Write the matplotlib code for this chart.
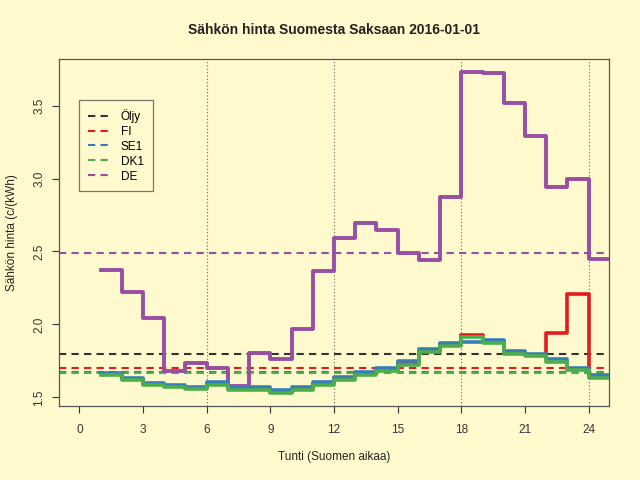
import numpy as np
import matplotlib
matplotlib.use("Agg")
import matplotlib.pyplot as plt

# hourly prices c/kWh, hour 1..24 (last value repeated for the step end)
hours = np.arange(1, 26)
fi = [1.658, 1.624, 1.594, 1.578, 1.564, 1.594, 1.560, 1.560, 1.539, 1.560,
      1.598, 1.631, 1.667, 1.690, 1.738, 1.818, 1.864, 1.926, 1.885, 1.809,
      1.790, 1.940, 2.210, 1.644, 1.644]
se1 = [1.665, 1.630, 1.600, 1.587, 1.573, 1.605, 1.567, 1.567, 1.548, 1.567,
       1.605, 1.641, 1.674, 1.700, 1.747, 1.828, 1.873, 1.876, 1.892, 1.818,
       1.800, 1.759, 1.704, 1.653, 1.653]
dk1 = [1.650, 1.615, 1.582, 1.569, 1.560, 1.585, 1.550, 1.550, 1.530, 1.550,
       1.587, 1.619, 1.656, 1.677, 1.724, 1.807, 1.853, 1.910, 1.873, 1.800,
       1.780, 1.745, 1.686, 1.630, 1.630]
de = [2.375, 2.225, 2.045, 1.680, 1.735, 1.700, 1.580, 1.805, 1.765, 1.965,
      2.365, 2.590, 2.695, 2.650, 2.490, 2.440, 2.875, 3.730, 3.725, 3.520,
      3.290, 2.940, 2.995, 2.445, 2.445]

# reference levels (oil price and daily averages)
oil_level = 1.80
fi_avg = 1.704
se1_avg = 1.672
dk1_avg = 1.668
de_avg = 2.49

names = ["Öljy", "FI", "SE1", "DK1", "DE"]
colors = ["#333333", "#E41A1C", "#377EB8", "#4DAF4A", "#984EA3"]
xticks = list(range(0, 25, 3))
yticks = [1.5, 2.0, 2.5, 3.0, 3.5]

bg = "#FFFACD"
plt.rcParams["font.family"] = ["Liberation Sans", "DejaVu Sans"]
fig = plt.figure(figsize=(6.4, 4.8), dpi=100, facecolor=bg)
ax = fig.add_axes([59 / 640, 1 - 406 / 480, 550 / 640, 347 / 480], facecolor=bg)

for v in [6, 12, 18, 24]:
    ax.axvline(v, color="#666666", lw=0.8, ls=(0, (1, 2)), zorder=1)

ax.step(hours, de, where="post", color=colors[4], lw=2.8, zorder=3)
ax.step(hours, fi, where="post", color=colors[1], lw=2.6, zorder=3)
ax.step(hours, se1, where="post", color=colors[2], lw=2.6, zorder=3)
ax.step(hours, dk1, where="post", color=colors[3], lw=2.6, zorder=3)

dash = (0, (3.5, 2.5))
levels = [oil_level, fi_avg, se1_avg, dk1_avg, de_avg]
handles = []
for lev, c, n in zip(levels, colors, names):
    h = ax.axhline(lev, color=c, lw=1.5, ls=dash, zorder=2, label=n)
    handles.append(h)

ax.set_xlim(-0.96, 24.96)
ax.set_ylim(1.44, 3.82)
ax.set_xticks(xticks)
ax.set_yticks(yticks)
ax.set_yticklabels([str(t) for t in yticks], rotation=90, va="center")
ax.tick_params(direction="out", length=5, width=0.8, colors="#333333",
               labelsize=8.5)
ax.tick_params(axis="x", pad=8)
ax.tick_params(axis="y", pad=5)
for s in ax.spines.values():
    s.set_color("#555555")
    s.set_linewidth(0.9)

ax.set_xlabel("Tunti (Suomen aikaa)", fontsize=8.5, color="#222222", labelpad=11)
ax.set_ylabel("Sähkön hinta (c/(kWh)", fontsize=8.5, color="#222222", labelpad=11)
fig.text(334 / 640, 1 - 30 / 480, "Sähkön hinta Suomesta Saksaan 2016-01-01",
         ha="center", va="center", fontsize=10, fontweight="bold", color="#222222")

leg = ax.legend(handles=handles, loc="upper left", bbox_to_anchor=(0.036, 0.882),
                borderaxespad=0, fontsize=8.5, frameon=True, fancybox=False,
                handlelength=1.7, borderpad=0.75, labelspacing=0.25,
                handletextpad=1.1)
leg.get_frame().set_facecolor(bg)
leg.get_frame().set_edgecolor("#555555")
leg.get_frame().set_linewidth(0.9)

fig.savefig("out.png", dpi=100, facecolor=bg)
